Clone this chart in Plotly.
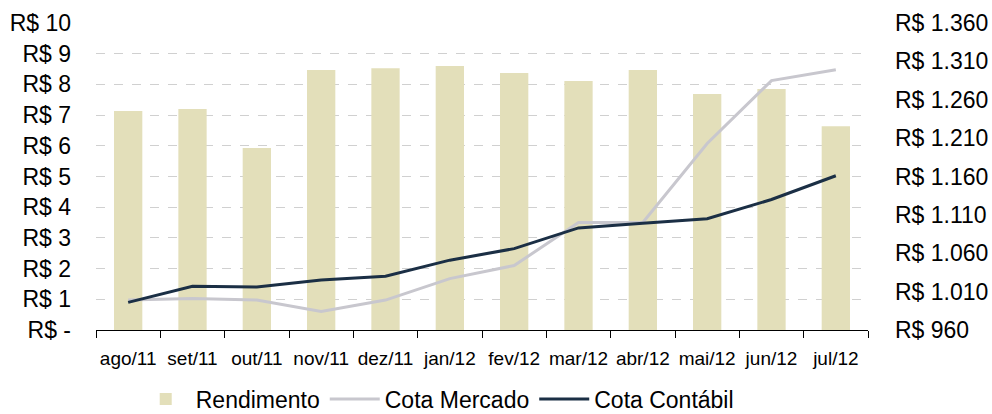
import plotly.graph_objects as go

# ------------------ data ------------------
meses = ["ago/11", "set/11", "out/11", "nov/11", "dez/11", "jan/12",
         "fev/12", "mar/12", "abr/12", "mai/12", "jun/12", "jul/12"]

rendimento = [7.13, 7.20, 5.93, 8.47, 8.53, 8.60, 8.37, 8.11, 8.47, 7.69, 7.85, 6.64]
cota_mercado = [999, 1001, 999, 984, 999, 1027, 1044, 1100, 1100, 1203, 1285, 1299]
cota_contabil = [996, 1017, 1016, 1025, 1030, 1051, 1066, 1093, 1099, 1105, 1130, 1161]

left_ticks = list(range(0, 11))
left_text = ["R$ -"] + [f"R$ {v}" for v in left_ticks[1:]]
right_ticks = list(range(960, 1361, 50))
right_text = ["R$ " + f"{v:,}".replace(",", ".") for v in right_ticks]

FONT = "Liberation Sans, Arial, sans-serif"

fig = go.Figure()

fig.add_trace(go.Bar(
    x=meses, y=rendimento, name="Rendimento",
    marker=dict(color="#E3DFBA", line=dict(width=0)),
))
fig.add_trace(go.Scatter(
    x=meses, y=cota_mercado, name="Cota Mercado", yaxis="y2",
    mode="lines", line=dict(color="#C8C7CE", width=3),
))
fig.add_trace(go.Scatter(
    x=meses, y=cota_contabil, name="Cota Contábil", yaxis="y2",
    mode="lines", line=dict(color="#1B2F45", width=3),
))

fig.update_layout(
    width=992, height=414,
    margin=dict(l=96, r=124, t=23, b=84, autoexpand=False),
    paper_bgcolor="white", plot_bgcolor="white",
    font=dict(family=FONT, color="black"),
    bargap=0.56,
    showlegend=True,
    legend=dict(
        orientation="h", x=0.442, xanchor="center", y=-0.155, yanchor="top",
        font=dict(size=23), itemwidth=50, tracegroupgap=0,
        bgcolor="rgba(0,0,0,0)",
    ),
    xaxis=dict(
        type="category", tickson="boundaries", ticks="outside", ticklen=7,
        tickcolor="black", showline=True, linecolor="black", linewidth=1,
        showgrid=False, tickfont=dict(size=19), ticklabelstandoff=11,
        tickangle=0, automargin=False, range=[-0.5, 11.5],
    ),
    yaxis=dict(
        range=[0, 10], tickvals=left_ticks, ticktext=left_text,
        showgrid=True, gridcolor="#D0D0D0", griddash="dash", gridwidth=1,
        zeroline=False, showline=False, tickfont=dict(size=23),
        ticklabelstandoff=24, automargin=False,
    ),
    yaxis2=dict(
        range=[960, 1360], tickvals=right_ticks, ticktext=right_text,
        overlaying="y", side="right", showgrid=False, zeroline=False,
        showline=False, tickfont=dict(size=23), ticklabelstandoff=26,
        automargin=False,
    ),
)

# drop the browser's default page margin so the figure fills the window
fig.write_html("out.html", config={"displayModeBar": False},
               post_script="document.body.style.margin='0';")
